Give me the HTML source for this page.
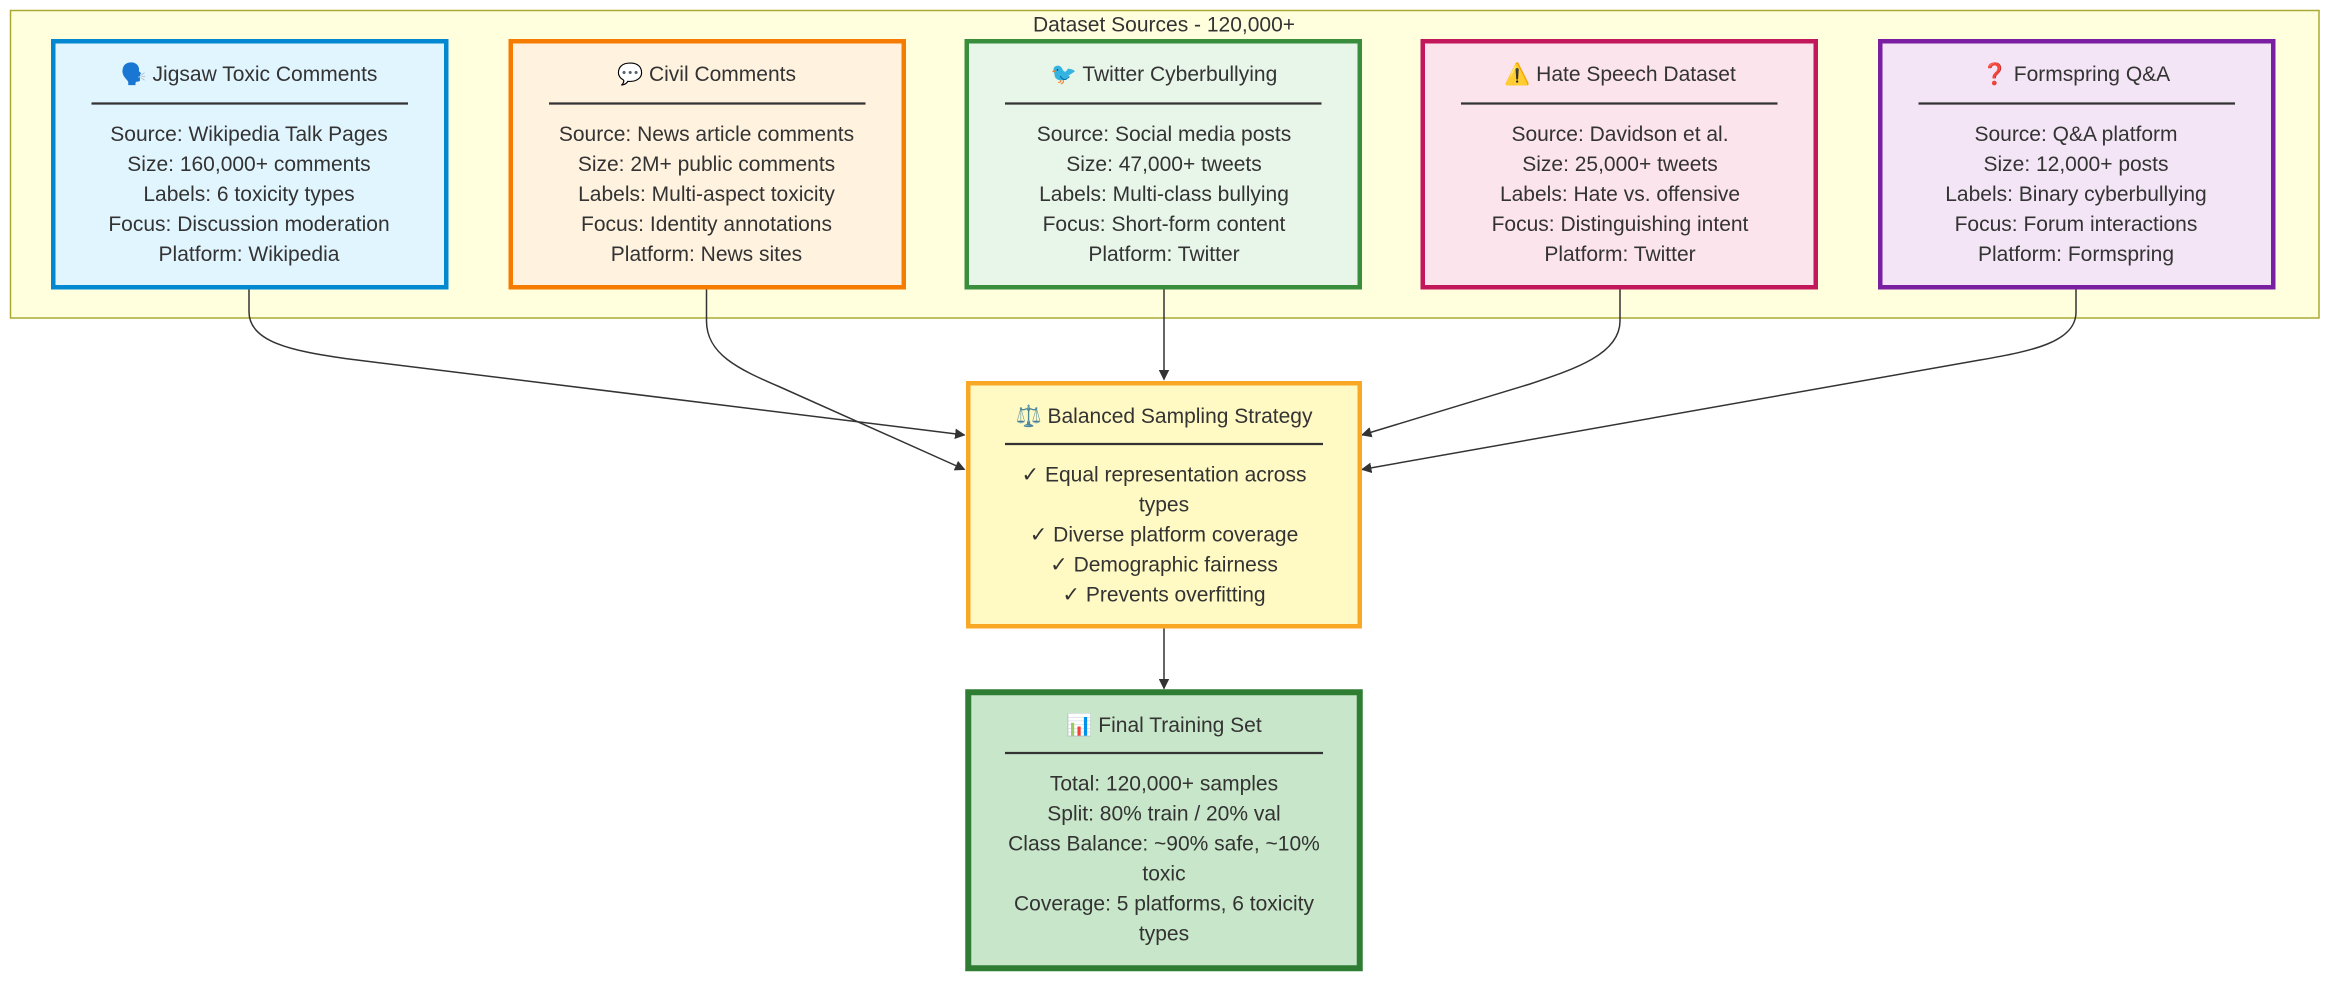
<!DOCTYPE html>
<html><head><meta charset="utf-8"><style>
html,body{margin:0;padding:0;background:#fff;}
svg{display:block;}
text{font-family:"Liberation Sans","DejaVu Sans",sans-serif;font-size:14px;fill:#333;text-anchor:middle;}
</style></head><body>
<svg width="2352" height="990" viewBox="0 0 1568 660" xmlns="http://www.w3.org/2000/svg">
<defs>
<marker id="ah" viewBox="0 0 10 10" refX="9" refY="5" markerWidth="7" markerHeight="7" orient="auto"><path d="M0,0 L10,5 L0,10 z" fill="#333"/></marker>
</defs>
<rect x="7" y="7" width="1539" height="205" fill="#ffffde" stroke="#aaaa33" stroke-width="1"/>
<text x="776" y="21">Dataset Sources - 120,000+</text>

<g stroke="#333" stroke-width="1" fill="none" marker-end="url(#ah)">
<path d="M166,192 V208 C166,228 195,234 230,239 L643,290"/>
<path d="M471,192 V214 C471,236 492,246 520,258 L643,313"/>
<path d="M776,192 V253"/>
<path d="M1080,192 V214 C1080,236 1050,246 1020,256 L908,290"/>
<path d="M1384,192 V208 C1384,228 1355,234 1320,240 L908,313"/>
<path d="M776,418 V459"/>
</g>

<rect x="35.5" y="27.5" width="262" height="164" fill="#e1f5fe" stroke="#0288d1" stroke-width="3"/>
<text x="166" y="54">🗣️ Jigsaw Toxic Comments</text>
<line x1="61" y1="69" x2="272" y2="69" stroke="#333" stroke-width="1.5"/>
<text x="166" y="94">Source: Wikipedia Talk Pages</text>
<text x="166" y="114">Size: 160,000+ comments</text>
<text x="166" y="134">Labels: 6 toxicity types</text>
<text x="166" y="154">Focus: Discussion moderation</text>
<text x="166" y="174">Platform: Wikipedia</text>

<rect x="340.5" y="27.5" width="262" height="164" fill="#fff3e0" stroke="#f57c00" stroke-width="3"/>
<text x="471" y="54">💬 Civil Comments</text>
<line x1="366" y1="69" x2="577" y2="69" stroke="#333" stroke-width="1.5"/>
<text x="471" y="94">Source: News article comments</text>
<text x="471" y="114">Size: 2M+ public comments</text>
<text x="471" y="134">Labels: Multi-aspect toxicity</text>
<text x="471" y="154">Focus: Identity annotations</text>
<text x="471" y="174">Platform: News sites</text>

<rect x="644.5" y="27.5" width="262" height="164" fill="#e8f5e9" stroke="#388e3c" stroke-width="3"/>
<text x="776" y="54">🐦 Twitter Cyberbullying</text>
<line x1="670" y1="69" x2="881" y2="69" stroke="#333" stroke-width="1.5"/>
<text x="776" y="94">Source: Social media posts</text>
<text x="776" y="114">Size: 47,000+ tweets</text>
<text x="776" y="134">Labels: Multi-class bullying</text>
<text x="776" y="154">Focus: Short-form content</text>
<text x="776" y="174">Platform: Twitter</text>

<rect x="948.5" y="27.5" width="262" height="164" fill="#fce4ec" stroke="#c2185b" stroke-width="3"/>
<text x="1080" y="54">⚠️ Hate Speech Dataset</text>
<line x1="974" y1="69" x2="1185" y2="69" stroke="#333" stroke-width="1.5"/>
<text x="1080" y="94">Source: Davidson et al.</text>
<text x="1080" y="114">Size: 25,000+ tweets</text>
<text x="1080" y="134">Labels: Hate vs. offensive</text>
<text x="1080" y="154">Focus: Distinguishing intent</text>
<text x="1080" y="174">Platform: Twitter</text>

<rect x="1253.5" y="27.5" width="262" height="164" fill="#f3e5f5" stroke="#7b1fa2" stroke-width="3"/>
<text x="1384" y="54">❓ Formspring Q&amp;A</text>
<line x1="1279" y1="69" x2="1490" y2="69" stroke="#333" stroke-width="1.5"/>
<text x="1384" y="94">Source: Q&amp;A platform</text>
<text x="1384" y="114">Size: 12,000+ posts</text>
<text x="1384" y="134">Labels: Binary cyberbullying</text>
<text x="1384" y="154">Focus: Forum interactions</text>
<text x="1384" y="174">Platform: Formspring</text>

<rect x="645.5" y="255.5" width="261" height="162" fill="#fff9c4" stroke="#f9a825" stroke-width="3"/>
<text x="776" y="282">⚖️ Balanced Sampling Strategy</text>
<line x1="670" y1="296" x2="882" y2="296" stroke="#333" stroke-width="1.5"/>
<text x="776" y="321">✓ Equal representation across</text>
<text x="776" y="341">types</text>
<text x="776" y="361">✓ Diverse platform coverage</text>
<text x="776" y="381">✓ Demographic fairness</text>
<text x="776" y="401">✓ Prevents overfitting</text>

<rect x="645.5" y="461.5" width="261" height="184" fill="#c8e6c9" stroke="#2e7d32" stroke-width="4"/>
<text x="776" y="488">📊 Final Training Set</text>
<line x1="670" y1="502" x2="882" y2="502" stroke="#333" stroke-width="1.5"/>
<text x="776" y="527">Total: 120,000+ samples</text>
<text x="776" y="547">Split: 80% train / 20% val</text>
<text x="776" y="567">Class Balance: ~90% safe, ~10%</text>
<text x="776" y="587">toxic</text>
<text x="776" y="607">Coverage: 5 platforms, 6 toxicity</text>
<text x="776" y="627">types</text>
</svg>
</body></html>
